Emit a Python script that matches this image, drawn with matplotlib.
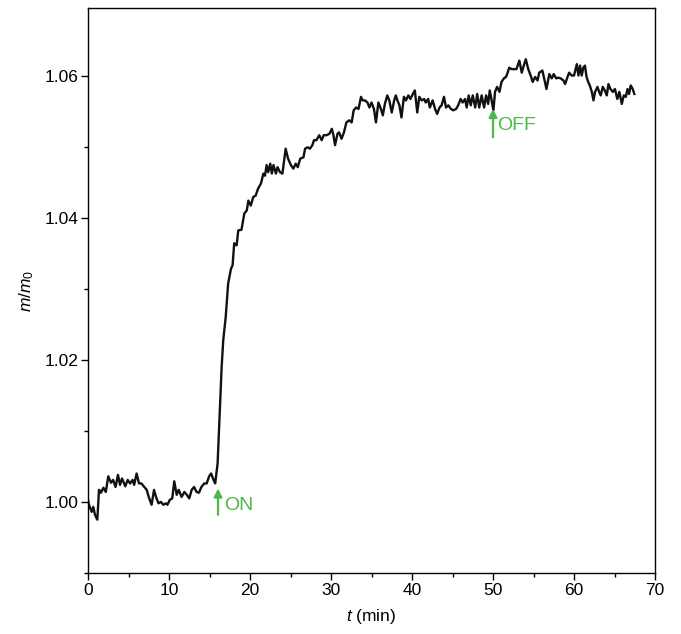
import matplotlib
matplotlib.use("Agg")
import matplotlib.pyplot as plt
from matplotlib.ticker import MultipleLocator

plt.rcParams['font.family'] = ['Liberation Sans', 'DejaVu Sans']
plt.rcParams['mathtext.fontset'] = 'custom'
plt.rcParams['mathtext.rm'] = 'Liberation Sans'
plt.rcParams['mathtext.it'] = 'Liberation Sans:italic'

t_min = [0.0, 0.12, 0.45, 0.65, 0.86, 1.15, 1.36, 1.6, 1.9, 2.2, 2.5, 2.84, 3.1, 3.4, 3.7, 3.95,
         4.2, 4.6, 4.9, 5.2, 5.5, 5.7, 6.0, 6.3, 6.6, 6.95, 7.25, 7.5, 7.85, 8.15, 8.4, 8.7,
         9.0, 9.3, 9.6, 9.8, 10.1, 10.4, 10.65, 10.95, 11.2, 11.55, 11.9, 12.2, 12.5, 12.8,
         13.1, 13.4, 13.7, 14.0, 14.35, 14.65, 14.95, 15.2, 15.5, 15.7, 16.0,
         16.3, 16.5, 16.7, 17.0, 17.3, 17.65, 17.85, 18.05, 18.35, 18.55, 18.95, 19.3, 19.6,
         19.8, 20.1, 20.4, 20.7, 21.0, 21.35, 21.65, 21.85, 22.05, 22.25, 22.5, 22.7, 22.9,
         23.2, 23.4, 23.7, 24.0, 24.4, 24.7, 25.05, 25.35, 25.65, 25.9, 26.2, 26.6,
         26.8, 27.1, 27.4, 27.7, 27.9, 28.2, 28.55, 28.85, 29.1, 29.45, 29.8, 30.1, 30.3,
         30.5, 30.8, 31.0, 31.3, 31.6, 31.9, 32.25, 32.55, 32.8, 33.1, 33.4, 33.7, 33.9,
         34.2, 34.5, 34.75, 35.0, 35.3, 35.55, 35.85, 36.1, 36.4, 36.65, 36.95, 37.2, 37.5,
         37.8, 38.0, 38.2, 38.45, 38.7, 39.0, 39.25, 39.55, 39.8, 40.1, 40.35, 40.65, 40.9,
         41.2, 41.5, 41.7, 42.0, 42.2, 42.55, 42.85, 43.1, 43.4, 43.65, 43.95, 44.2, 44.5,
         44.8, 45.1, 45.45, 45.7, 46.0, 46.25, 46.55, 46.75, 47.0, 47.25, 47.5, 47.8, 48.05,
         48.3, 48.6, 48.9, 49.15, 49.4, 49.6, 49.8, 50.05, 50.25, 50.5, 50.8, 51.05, 51.35,
         51.6, 51.75, 52.0, 52.3, 52.6, 52.9, 53.25, 53.55, 53.8, 54.05, 54.35, 54.65, 54.9,
         55.2, 55.5, 55.7, 56.1, 56.4, 56.6, 56.95, 57.25, 57.5, 57.8, 58.05, 58.35, 58.7,
         58.9, 59.2, 59.4, 59.7, 60.0, 60.35, 60.55, 60.75, 60.95, 61.15, 61.35, 61.55, 61.75,
         61.95, 62.2, 62.4, 62.6, 62.9, 63.1, 63.3, 63.55, 63.8, 64.05, 64.25, 64.5, 64.8,
         65.05, 65.35, 65.6, 65.9, 66.15, 66.4, 66.6, 66.8, 67.0, 67.25, 67.45]

m_ratio = [1.0003, 0.9996, 0.9986, 0.9993, 0.9982, 0.9975, 1.0017, 1.0013, 1.002, 1.0014, 1.0036,
           1.0027, 1.0031, 1.0021, 1.0038, 1.0024, 1.0033, 1.0022, 1.0031, 1.0026, 1.0031, 1.0024,
           1.004, 1.0026, 1.0026, 1.0021, 1.0017, 1.0007, 0.9996, 1.0017, 1.0007, 0.9998, 1.0,
           0.9996, 0.9998, 0.9996, 1.0003, 1.0005, 1.0029, 1.001, 1.0017, 1.0007, 1.0014, 1.001,
           1.0005, 1.0017, 1.0021, 1.0014, 1.0013, 1.0021, 1.0026, 1.0026, 1.0036, 1.004, 1.0031,
           1.0026, 1.0054,
           1.0134, 1.019, 1.0228, 1.026, 1.0307, 1.0328, 1.0333, 1.0364, 1.0361, 1.0382, 1.0383,
           1.0406, 1.041, 1.0424, 1.0417, 1.0429, 1.0431, 1.0441, 1.0448, 1.0462, 1.0459, 1.0474,
           1.0464, 1.0476, 1.0462, 1.0474, 1.0462, 1.0471, 1.0464, 1.0462, 1.0497, 1.0483, 1.0474,
           1.0469, 1.0476, 1.0471, 1.0483, 1.0485,
           1.0497, 1.0499, 1.0497, 1.0502, 1.0509, 1.0509, 1.0516, 1.0509, 1.0516, 1.0516, 1.0518,
           1.0525, 1.0516, 1.0502, 1.0518, 1.052, 1.0511, 1.052, 1.0534, 1.0537, 1.0534, 1.0551,
           1.0555, 1.0553, 1.057, 1.0565, 1.0565, 1.0562, 1.0555, 1.0562, 1.0553, 1.0534, 1.0562,
           1.0555, 1.0544, 1.056, 1.0572, 1.0565, 1.0548, 1.0565, 1.0572, 1.0565, 1.0558, 1.0541,
           1.057, 1.0565, 1.0572, 1.0567, 1.0574, 1.0579, 1.0548, 1.057, 1.0565, 1.0567, 1.0562,
           1.0567, 1.0555, 1.0565, 1.0553, 1.0546, 1.0555, 1.0558, 1.057, 1.0555, 1.0558, 1.0553,
           1.0551, 1.0553, 1.0558, 1.0567, 1.0562, 1.0567, 1.0555, 1.0572, 1.0558, 1.0572, 1.0555,
           1.0574, 1.0555, 1.0572, 1.0555, 1.0572, 1.056, 1.0579, 1.0567, 1.0551, 1.0577, 1.0584,
           1.0577, 1.0591, 1.0596, 1.0598, 1.0602, 1.0611, 1.0609, 1.0609, 1.0609, 1.0621, 1.0604,
           1.0614, 1.0623, 1.0609, 1.06, 1.0591, 1.0598, 1.0593, 1.0604, 1.0607, 1.0591, 1.0581,
           1.0602, 1.0596, 1.0602, 1.0596, 1.0597, 1.0596, 1.0593, 1.0588, 1.0598, 1.0604, 1.06,
           1.06, 1.0616, 1.06, 1.0614, 1.06, 1.0611, 1.0614, 1.0598, 1.0591, 1.0586, 1.0577,
           1.0565, 1.0577, 1.0584, 1.0577, 1.0572, 1.0584, 1.0579, 1.0572, 1.0588, 1.0581, 1.0577,
           1.0581, 1.0567, 1.0577, 1.056, 1.0572, 1.057, 1.0581, 1.0574, 1.0586, 1.0581, 1.0574]

x_ticks = [0, 10, 20, 30, 40, 50, 60, 70]
y_ticks = [1.00, 1.02, 1.04, 1.06]
y_tick_labels = ['1.00', '1.02', '1.04', '1.06']

green = '#4cb847'
fs = 12.5

fig = plt.figure(figsize=(6.81, 6.34), dpi=100)
ax = fig.add_axes([88/681, 61/634, 567/681, 565/634])

ax.plot(t_min, m_ratio, color='#111111', lw=1.7)

ax.set_xlim(0, 70)
ax.set_ylim(0.99, 1.0695)
ax.set_xticks(x_ticks)
ax.set_yticks(y_ticks)
ax.set_yticklabels(y_tick_labels)
ax.xaxis.set_minor_locator(MultipleLocator(5))
ax.yaxis.set_minor_locator(MultipleLocator(0.01))
ax.tick_params(which='both', direction='out', top=False, right=False, labelsize=fs, width=1)
ax.tick_params(which='major', length=5, pad=2)
ax.tick_params(which='minor', length=3)
for s in ax.spines.values():
    s.set_linewidth(1)

ax.set_xlabel(r'$t$ (min)', fontsize=fs, labelpad=7)
ax.set_ylabel(r'$m/m_{\mathrm{0}}$', fontsize=fs, labelpad=6)

# ON / OFF markers
ax.annotate('', xy=(16.05, 1.0019), xytext=(16.05, 0.9982),
            arrowprops=dict(arrowstyle='-|>', color=green, lw=1.6, mutation_scale=12,
                            shrinkA=0, shrinkB=0))
ax.text(16.8, 0.9995, 'ON', color=green, fontsize=14, va='center', ha='left')
ax.annotate('', xy=(50.0, 1.0553), xytext=(50.0, 1.0513),
            arrowprops=dict(arrowstyle='-|>', color=green, lw=1.6, mutation_scale=12,
                            shrinkA=0, shrinkB=0))
ax.text(50.5, 1.053, 'OFF', color=green, fontsize=14, va='center', ha='left')

fig.savefig('out.png', dpi=100)
